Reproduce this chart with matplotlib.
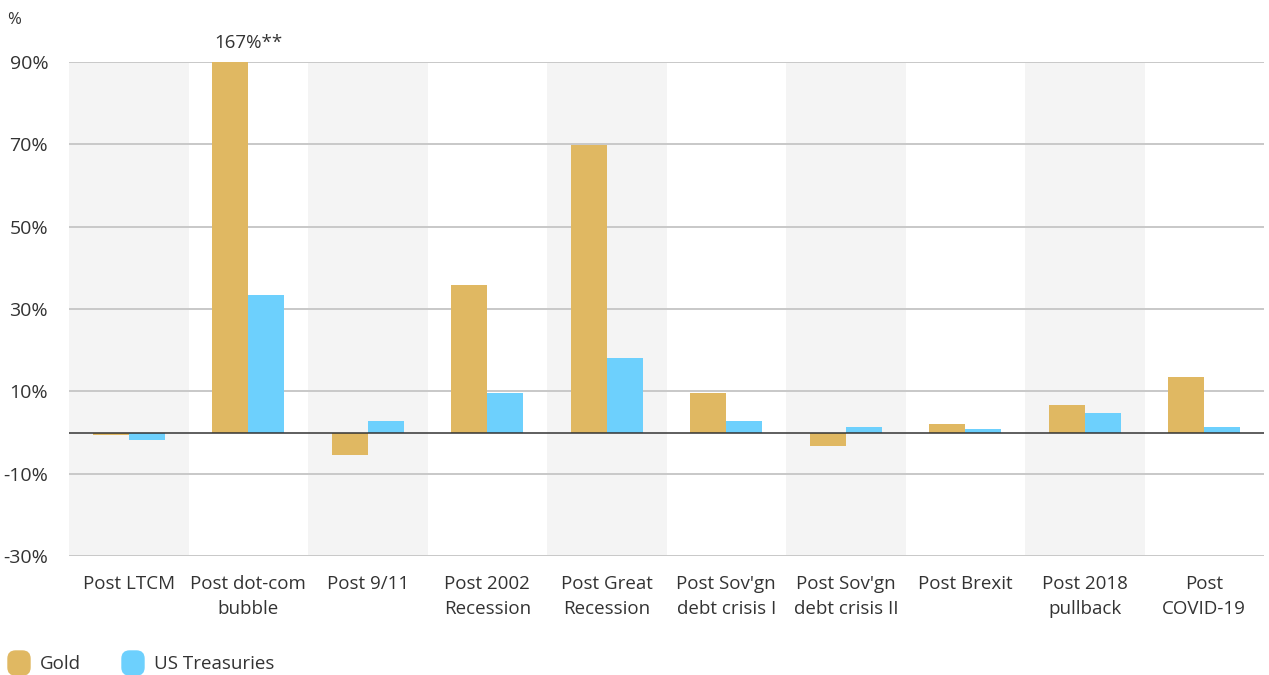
import numpy as np
import matplotlib.pyplot as plt
from matplotlib.patches import FancyBboxPatch

plt.rcParams['font.family'] = ['Open Sans', 'DejaVu Sans']

# Data (% returns)
categories = ['Post LTCM', 'Post dot-com\nbubble', 'Post 9/11', 'Post 2002\nRecession',
              'Post Great\nRecession', "Post Sov'gn\ndebt crisis I", "Post Sov'gn\ndebt crisis II",
              'Post Brexit', 'Post 2018\npullback', 'Post\nCOVID-19']
gold = [-0.7, 167, -5.4, 35.8, 69.8, 9.7, -3.3, 2.1, 6.8, 13.6]
treasuries = [-1.8, 33.4, 2.8, 9.6, 18.1, 2.8, 1.4, 0.9, 4.8, 1.4]
yticks = [-30, -10, 10, 30, 50, 70, 90]

gold_color = '#E0B862'
blue_color = '#6DD0FD'
text_color = '#333333'

fig = plt.figure(figsize=(12.69, 6.75), dpi=100)
ax = fig.add_axes([69 / 1269, 119 / 675, 1195 / 1269, 494 / 675])

x = np.arange(len(categories))
w = 0.3

# alternating background bands
for i in x:
    if i % 2 == 0:
        ax.axvspan(i - 0.5, i + 0.5, color='#F4F4F4', zorder=0, lw=0)

for t in yticks:
    ax.axhline(t, color='#C8C8C8', lw=1.4, zorder=1)

ax.bar(x - w / 2, gold, width=w, color=gold_color, zorder=2)
ax.bar(x + w / 2, treasuries, width=w, color=blue_color, zorder=2)
ax.axhline(0, color='#333333', lw=1.1, zorder=3)

ax.set_xlim(-0.5, len(categories) - 0.5)
ax.set_ylim(-30, 90)
ax.set_yticks(yticks)
ax.set_yticklabels([f'{t}%' for t in yticks])
ax.set_xticks(x)
ax.set_xticklabels(categories, linespacing=1.45)
ax.tick_params(axis='both', length=0, colors=text_color)
ax.tick_params(axis='y', pad=15, labelsize=14)
ax.tick_params(axis='x', pad=14, labelsize=13.5)
for s in ax.spines.values():
    s.set_visible(False)

# clipped bar annotation
ax.text(x[1], 92.5, f'{gold[1]:.0f}%**', ha='center', va='bottom',
        fontsize=13.5, color=text_color)

fig.text(7 / 1269, 1 - 20 / 675, '%', fontsize=12, color=text_color, va='center')

# legend
for px, label, col in [(8, 'Gold', gold_color), (122, 'US Treasuries', blue_color)]:
    fig.patches.append(FancyBboxPatch((px / 1269, 1 - 675 / 675), 22 / 1269, 24 / 675,
                                      boxstyle='round,pad=0,rounding_size=0.006',
                                      transform=fig.transFigure, color=col,
                                      mutation_aspect=1269 / 675))
    fig.text((px + 32) / 1269, 1 - 664 / 675, label, fontsize=13.5,
             color=text_color, va='center')

fig.savefig('out.png', dpi=100)
